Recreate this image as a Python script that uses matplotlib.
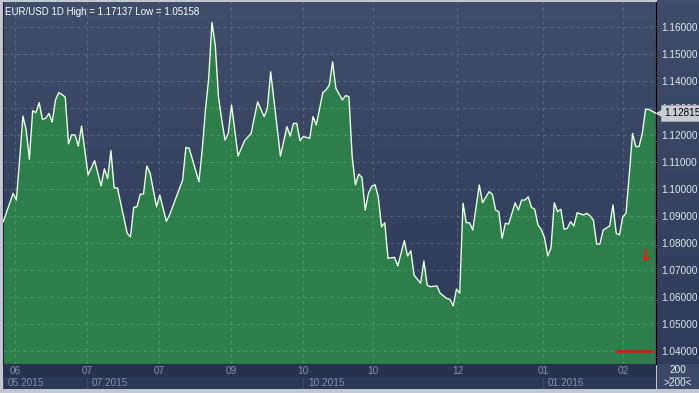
import numpy as np
import matplotlib
matplotlib.use("Agg")
from matplotlib import pyplot as plt, patches
from matplotlib import transforms

# EUR/USD daily closes (bar number, close)
bars = [0, 3, 4, 5, 6, 7, 8, 9, 10, 11, 12, 13, 14, 15, 16, 17, 18, 19, 20, 21,
        22, 23, 24, 26, 28, 30, 31, 32, 33, 34, 35, 38, 39, 40, 41, 42, 43, 44, 45, 47,
        48, 50, 51, 55, 56, 57, 60, 61, 62, 63, 64, 65, 66, 67, 68, 69, 70, 72, 74, 76,
        78, 80, 81, 82, 83, 85, 87, 88, 89, 90, 91, 92, 94, 95, 96, 98, 99, 100, 101, 102,
        104, 105, 106, 107, 108, 109, 110, 111, 112, 113, 114, 115, 116, 117, 118, 119, 120, 121, 123, 124,
        125, 126, 128, 129, 130, 131, 133, 134, 136, 137, 138, 139, 140, 141, 142, 143, 144, 146, 147, 149,
        150, 151, 152, 153, 154, 155, 157, 158, 159, 160, 161, 162, 163, 164, 165, 166, 167, 168, 169, 170,
        171, 172, 173, 174, 175, 176, 178, 179, 180, 181, 182, 183, 184, 186, 187, 188, 189, 190, 191, 192,
        193, 194, 195, 196, 197, 198, 200]
close = [1.0879, 1.0984, 1.0959, 1.1107, 1.1270, 1.1219, 1.1110, 1.1290, 1.1283, 1.1320,
         1.1258, 1.1262, 1.1280, 1.1248, 1.1330, 1.1357, 1.1350, 1.1340, 1.1167, 1.1201,
         1.1200, 1.1159, 1.1233, 1.1052, 1.1105, 1.1011, 1.1075, 1.1038, 1.1142, 1.1004,
         1.1004, 1.0836, 1.0823, 1.0932, 1.0934, 1.0981, 1.0981, 1.1085, 1.1060, 1.0934,
         1.0978, 1.0880, 1.0904, 1.1033, 1.1154, 1.1151, 1.1027, 1.1144, 1.1293, 1.1410,
         1.1617, 1.1533, 1.1341, 1.1256, 1.1181, 1.1206, 1.1311, 1.1122, 1.1179, 1.1206,
         1.1323, 1.1268, 1.1299, 1.1434, 1.1330, 1.1122, 1.1231, 1.1196, 1.1243, 1.1243,
         1.1179, 1.1194, 1.1188, 1.1268, 1.1237, 1.1357, 1.1367, 1.1385, 1.1471, 1.1373,
         1.1330, 1.1346, 1.1342, 1.1120, 1.1015, 1.1055, 1.1043, 1.0922, 1.0984, 1.1010,
         1.1016, 1.0972, 1.0860, 1.0875, 1.0743, 1.0745, 1.0747, 1.0715, 1.0809, 1.0752,
         1.0771, 1.0681, 1.0651, 1.0733, 1.0644, 1.0638, 1.0641, 1.0614, 1.0595, 1.0591,
         1.0567, 1.0629, 1.0614, 1.0947, 1.0875, 1.0875, 1.0848, 1.1015, 1.0949, 1.0990,
         1.0981, 1.0922, 1.0916, 1.0817, 1.0873, 1.0870, 1.0949, 1.0922, 1.0959, 1.0959,
         1.0971, 1.0932, 1.0925, 1.0867, 1.0850, 1.0820, 1.0752, 1.0782, 1.0949, 1.0916,
         1.0925, 1.0851, 1.0854, 1.0879, 1.0863, 1.0912, 1.0904, 1.0910, 1.0900, 1.0885,
         1.0796, 1.0796, 1.0848, 1.0863, 1.0941, 1.0836, 1.0830, 1.0897, 1.0910, 1.1052,
         1.1206, 1.1157, 1.1157, 1.1206, 1.1295, 1.1295, 1.12815]

price_ticks = [1.04, 1.05, 1.06, 1.07, 1.08, 1.09, 1.10, 1.11, 1.12, 1.13, 1.14, 1.15, 1.16]
month_pos = [3.7, 25.8, 47.9, 69.9, 92.0, 113.3, 139.3, 165.5, 190.2]
month_labels = ["06", "07", "07", "09", "10", "10", "12", "01", "02"]
year_pos = [-0.1, 25.8, 92.0, 165.5]
year_labels = ["05.2015", "07.2015", "10.2015", "01.2016"]
last_price = 1.12815
title = "EUR/USD 1D High = 1.17137 Low = 1.05158"

plt.rcParams['font.family'] = ['Liberation Sans', 'DejaVu Sans']

W, H = 699, 393
fig = plt.figure(figsize=(W / 100, H / 100), dpi=100, facecolor='#c3c7cf')

x0, x1 = -0.1, 200.2
y0, y1 = 1.03519, 1.16926

# right price band
axr = fig.add_axes([657 / W, 1 - 364 / H, 42 / W, 364 / H])
axr.axis('off')
axr.imshow(np.linspace(0, 1, 100).reshape(-1, 1), cmap=matplotlib.colors.LinearSegmentedColormap.from_list(
    'r', ['#3f4c69', '#2f3b5a']), extent=(0, 1, 0, 1), aspect='auto')

ax = fig.add_axes([3 / W, 1 - 364 / H, 653 / W, 362 / H])
ax.set_xlim(x0, x1)
ax.set_ylim(y0, y1)
grad = np.linspace(0, 1, 256).reshape(-1, 1)
cmap = matplotlib.colors.LinearSegmentedColormap.from_list('bg', ['#3f4d6a', '#2b3858'])
ax.imshow(grad, cmap=cmap, extent=(x0, x1, y0, y1), aspect='auto', zorder=0)
ax.set_xlim(x0, x1)
ax.set_ylim(y0, y1)

ax.fill_between(bars, close, y0, color='#2d7e4b', lw=0, zorder=1)
ax.plot(bars, close, color='#e8ffe4', lw=1.0, zorder=4)

for p in price_ticks:
    ax.axhline(p, color='white', alpha=0.16, lw=0.8, ls=(0, (3, 3)), zorder=3)
for m in month_pos:
    ax.axvline(m, color='white', alpha=0.16, lw=0.8, ls=(0, (3, 3)), zorder=3)

# red marks
ax.hlines(1.04, 188.0, 199.3, color='#e81010', lw=1.8, zorder=5)
ax.text(197, 1.0751, '↓', family='DejaVu Sans', fontweight='bold', fontsize=12,
        color='#ff1010', ha='center', va='center', zorder=5)

ax.yaxis.tick_right()
ax.set_yticks(price_ticks)
ax.set_yticklabels(['%.5f' % p for p in price_ticks])
ax.tick_params(axis='y', length=0, pad=4, labelsize=7.2, labelcolor='#e2e6ee')
ax.set_xticks([])
for s in ax.spines.values():
    s.set_visible(False)
ax.spines['right'].set_visible(True)
ax.spines['right'].set_color('black')
ax.spines['left'].set_visible(True)
ax.spines['left'].set_color('#1a2035')
ax.spines['bottom'].set_visible(True)
ax.spines['bottom'].set_color('black')

ax.text(0.003, 0.985, title, transform=ax.transAxes, ha='left', va='top',
        fontsize=7.0, color='white', zorder=6)

# last price tag (covers the 1.13000 label like the original)
tr = transforms.blended_transform_factory(ax.transAxes, ax.transData)
ax.text(1.012, last_price, '%.5f' % last_price, transform=tr, ha='left', va='center',
        fontsize=7.2, color='black', zorder=7, clip_on=False,
        bbox=dict(boxstyle='square,pad=0.32', fc='#c9cdd4', ec='#9ea4ae', lw=0.6))
ax.plot([1.004], [last_price], marker='<', ms=5, color='#c9cdd4', transform=tr,
        clip_on=False, zorder=7)

# bottom time band
axb = fig.add_axes([3 / W, 1 - 389 / H, 653 / W, 25 / H])
axb.set_xlim(x0, x1)
axb.set_ylim(0, 1)
axb.axis('off')
axb.add_patch(patches.Rectangle((0, 0), 1, 1, transform=axb.transAxes, color='#27324f', zorder=0))
axb.add_patch(patches.Rectangle((0, 0), 1, 0.46, transform=axb.transAxes, color='#2a3655', zorder=0))
axb.axhline(0.46, color='#34405e', lw=0.8)
for m, lab in zip(month_pos, month_labels):
    axb.text(m, 0.73, lab, ha='center', va='center', fontsize=7.2, color='#8791a8')
for yp, lab in zip(year_pos, year_labels):
    axb.vlines(yp, 0, 0.46, color='#3c4968', lw=0.9)
    axb.text(yp + 1.4, 0.22, lab, ha='left', va='center', fontsize=7.2, color='#8791a8')

# bar count box
axc = fig.add_axes([657 / W, 1 - 389 / H, 42 / W, 25 / H])
axc.axis('off')
axc.add_patch(patches.Rectangle((0, 0), 1, 1, transform=axc.transAxes, color='#3a4766'))
axc.text(0.5, 0.76, '200', ha='center', va='center', fontsize=7.2, color='#eef0f4')
axc.plot([0.28, 0.75], [0.5, 0.5], color='#8d96aa', lw=0.7)
axc.text(0.5, 0.24, '>200<', ha='center', va='center', fontsize=7.2, color='#eef0f4')
axc.set_xlim(0, 1)
axc.set_ylim(0, 1)

fig.savefig('out.png', dpi=100, facecolor=fig.get_facecolor())
